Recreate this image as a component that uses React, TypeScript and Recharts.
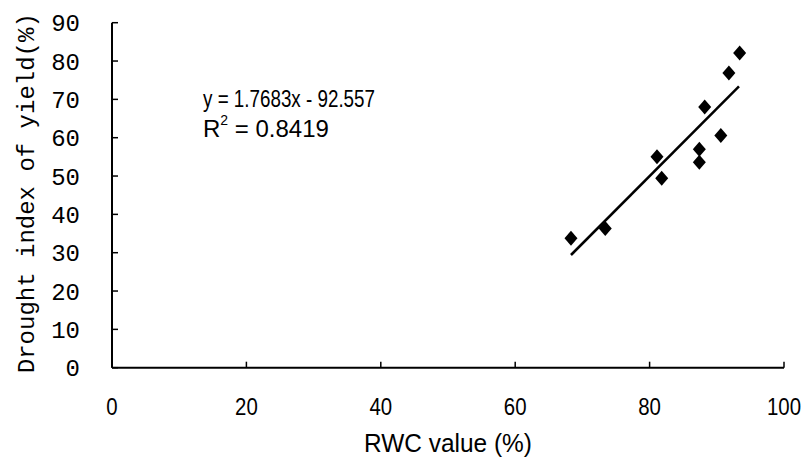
import React from 'react';
import { ScatterChart, Scatter, XAxis, YAxis } from 'recharts';

const rwcValues = [68.3, 73.4, 81.1, 81.8, 88.2, 87.4, 87.4, 90.6, 91.8, 93.4];
const droughtIndex = [33.8, 36.3, 55.0, 49.4, 68.0, 57.0, 53.6, 60.6, 76.9, 82.1];
const trendX = [68.3, 93.3];
const trendY = [29.4, 73.4];
const xTicks = [0, 20, 40, 60, 80, 100];
const yTicks = [0, 10, 20, 30, 40, 50, 60, 70, 80, 90];
const xLabel = 'RWC value (%)';
const yLabel = 'Drought index of yield(%)';
const equationText = 'y = 1.7683x - 92.557';
const r2Value = '0.8419';

const points = rwcValues.map((x, i) => ({ x, y: droughtIndex[i] }));
const trendData = trendX.map((x, i) => ({ x, y: trendY[i] }));

const SANS = "'Liberation Sans', Arial, sans-serif";
const MONO = "'Liberation Mono', 'Courier New', monospace";

const squeeze = (x: number, y: number, s: number) =>
  `translate(${x},${y}) scale(${s},1) translate(${-x},${-y})`;

const Diamond = (props: any) => {
  const { cx, cy } = props;
  if (cx == null || cy == null) return <g />;
  return (
    <path
      d={`M${cx},${cy - 7.5}L${cx + 6.5},${cy}L${cx},${cy + 7.5}L${cx - 6.5},${cy}Z`}
      fill="#000"
    />
  );
};

const NoShape = () => <g />;

const XTick = (props: any) => {
  const { x, y, payload } = props;
  return (
    <text
      x={x}
      y={y}
      dy="0.71em"
      textAnchor="middle"
      fontFamily={SANS}
      fontSize={24}
      fill="#000"
      transform={squeeze(x, y, 0.85)}
    >
      {payload.value}
    </text>
  );
};

const YLabel = (props: any) => {
  const vb = props.viewBox || {};
  const x = vb.x + 28;
  const y = vb.y + vb.height / 2 - 2;
  return (
    <text
      x={x}
      y={y}
      transform={`rotate(-90, ${x}, ${y})`}
      textAnchor="middle"
      dominantBaseline="central"
      fontFamily={MONO}
      fontSize={24}
      fill="#000"
    >
      {yLabel}
    </text>
  );
};

const XLabel = (props: any) => {
  const vb = props.viewBox || {};
  const x = vb.x + vb.width / 2;
  const y = vb.y + 84;
  return (
    <text
      x={x}
      y={y}
      textAnchor="middle"
      fontFamily={SANS}
      fontSize={26}
      fill="#000"
      transform={squeeze(x, y, 0.94)}
    >
      {xLabel}
    </text>
  );
};

export default function App() {
  return (
    <div style={{ position: 'absolute', left: 0, top: 0, width: 803, height: 465, background: '#fff' }}>
      <ScatterChart
        width={803}
        height={465}
        margin={{ top: 22.7, right: 19, left: 0, bottom: 0 }}
      >
        <XAxis
          type="number"
          dataKey="x"
          domain={[0, 100]}
          ticks={xTicks}
          interval={0}
          height={97.3}
          tickSize={-6}
          tickMargin={36}
          axisLine={{ stroke: '#000', strokeWidth: 2 }}
          tickLine={{ stroke: '#000', strokeWidth: 1.5 }}
          tick={XTick}
          label={{ content: XLabel }}
        />
        <YAxis
          type="number"
          dataKey="y"
          domain={[0, 90]}
          ticks={yTicks}
          interval={0}
          width={112}
          tickSize={-6}
          tickMargin={38}
          axisLine={{ stroke: '#000', strokeWidth: 2 }}
          tickLine={{ stroke: '#000', strokeWidth: 1.5 }}
          tick={{ fill: '#000', fontSize: 24, fontFamily: MONO }}
          label={{ content: YLabel }}
        />
        <Scatter
          data={trendData}
          line={{ stroke: '#000', strokeWidth: 2.5 }}
          shape={NoShape}
          isAnimationActive={false}
        />
        <Scatter data={points} shape={Diamond} isAnimationActive={false} />
      </ScatterChart>
      <svg
        width={803}
        height={465}
        style={{ position: 'absolute', left: 0, top: 0, pointerEvents: 'none' }}
      >
        <text
          x={203}
          y={107}
          fontFamily={SANS}
          fontSize={24}
          fill="#000"
          textLength={172}
          lengthAdjust="spacingAndGlyphs"
        >
          {equationText}
        </text>
        <text x={203} y={137} fontFamily={SANS} fontSize={24} fill="#000">
          R
          <tspan fontSize={14} dy={-12}>2</tspan>
          <tspan dy={12}>{' = ' + r2Value}</tspan>
        </text>
      </svg>
    </div>
  );
}
